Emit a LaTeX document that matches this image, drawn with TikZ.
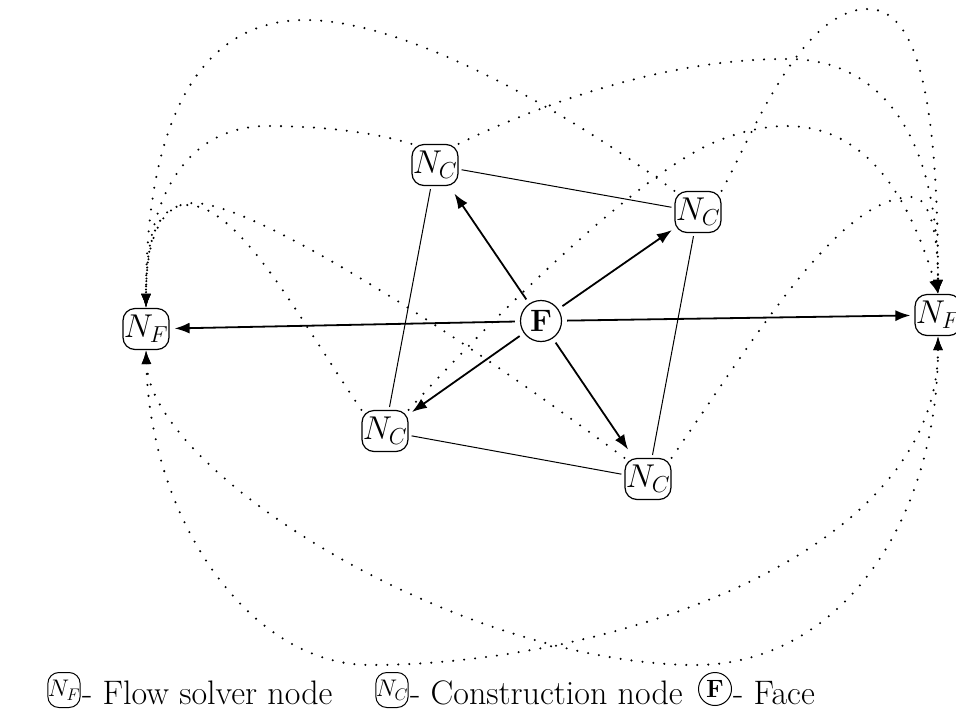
\RequirePackage{fix-cm}
\documentclass[tikz,border=0pt]{standalone}
\usetikzlibrary{arrows.meta}
\begin{document}
\begin{tikzpicture}[x=1pt,y=-1pt,
  nbox/.style={draw, rounded corners=12pt, minimum width=46pt, minimum height=41pt,
    inner sep=0pt, line width=1.2pt, font=\fontsize{33}{38}\selectfont},
  facenode/.style={draw, circle, minimum size=41pt, inner sep=0pt, line width=1.2pt,
    font=\fontsize{31}{36}\selectfont},
  keybox/.style={draw, rounded corners=11pt, minimum width=32pt, minimum height=35pt,
    inner sep=0pt, line width=1pt, font=\fontsize{24}{28}\selectfont},
  keyface/.style={draw, circle, minimum size=33pt, inner sep=0pt, line width=1pt,
    font=\fontsize{25}{29}\selectfont},
  keytext/.style={anchor=base west, inner sep=0pt, font=\fontsize{34}{40}\selectfont},
  link/.style={line width=1pt, shorten <=3pt, shorten >=3pt},
  feed/.style={line width=1.8pt, -{Latex[length=15pt,width=11pt]}, shorten <=5pt},
  trace/.style={line width=2.3pt, line cap=round, dash pattern=on 0pt off 11pt},
  tipend/.style={-{Latex[length=14pt,width=10pt]}},
  tipboth/.style={{Latex[length=14pt,width=10pt]}-{Latex[length=14pt,width=10pt]}}]

\useasboundingbox (0,0) rectangle (956,721);

% nodes
\node[facenode] (f) at (541,321) {$\mathbf{F}$};
\node[nbox] (nfl) at (146,329) {$N_F$};
\node[nbox] (nfr) at (938,315) {$N_F$};
\node[nbox] (nc1) at (435,165) {$N_C$};
\node[nbox] (nc2) at (698,212) {$N_C$};
\node[nbox] (nc3) at (385,431) {$N_C$};
\node[nbox] (nc4) at (648,479) {$N_C$};

% construction cell edges
\draw[link] (nc1) -- (nc2);
\draw[link] (nc2) -- (nc4);
\draw[link] (nc4) -- (nc3);
\draw[link] (nc3) -- (nc1);

% face to nodes
\draw[feed, shorten >=5pt] (f) -- (nfl);
\draw[feed, shorten >=4pt] (f) -- (nfr);
\draw[feed, shorten >=9pt] (f) -- (nc1);
\draw[feed, shorten >=3pt] (f) -- (nc2);
\draw[feed, shorten >=4pt] (f) -- (nc3);
\draw[feed, shorten >=10pt] (f) -- (nc4);

% construction nodes to left flow solver node
\draw[trace, tipend] (nc2.north west) .. controls (600,135) and (420,20) .. (305,20)
  .. controls (200,20) and (146,120) .. (nfl.north);
\draw[trace, tipend] (nc1.north west) .. controls (370,131) and (315,126) .. (268,126)
  .. controls (185,126) and (146,200) .. (nfl.north);
\draw[trace, tipend] (nc3.north west) .. controls (300,320) and (240,205) .. (187,205)
  .. controls (160,205) and (146,235) .. (nfl.north);
\draw[trace, tipend] (nc4.north west) .. controls (480,350) and (260,203) .. (193,203)
  .. controls (163,203) and (146,235) .. (nfl.north);

% construction nodes to right flow solver node
\draw[trace, tipend] (nc2.north east) .. controls (750,140) and (800,9) .. (868,9)
  .. controls (918,9) and (938,100) .. (nfr.north);
\draw[trace, tipend] (nc1.north east) .. controls (560,95) and (680,58) .. (790,59)
  .. controls (870,60) and (938,120) .. (nfr.north);
\draw[trace, tipend] (nc3.north east) .. controls (478,333) and (640,169) .. (720,140)
  .. controls (810,105) and (890,130) .. (nfr.north);
\draw[trace, tipend] (nc4.north east) .. controls (760,330) and (840,197) .. (912,197)
  .. controls (930,197) and (938,235) .. (nfr.north);

% lower loops between the flow solver nodes
\draw[trace, tipboth] (nfl.south) .. controls (150,520) and (250,665) .. (370,665)
  .. controls (600,665) and (938,560) .. (nfr.south);
\draw[trace, tipboth] (nfl.south) .. controls (150,470) and (450,660) .. (690,665)
  .. controls (840,668) and (938,520) .. (nfr.south);

% key
\node[keybox] (knf) at (64,690) {$N_F$};
\node[keytext] (k1) at (82,704) {- Flow solver node};
\node[keybox] (knc) at (392,690) {$N_C$};
\node[keytext] (k2) at (410,704) {- Construction node};
\node[keyface] (kf) at (715,689) {$\mathbf{F}$};
\node[keytext] (k3) at (733,704) {- Face};
\end{tikzpicture}
\end{document}
